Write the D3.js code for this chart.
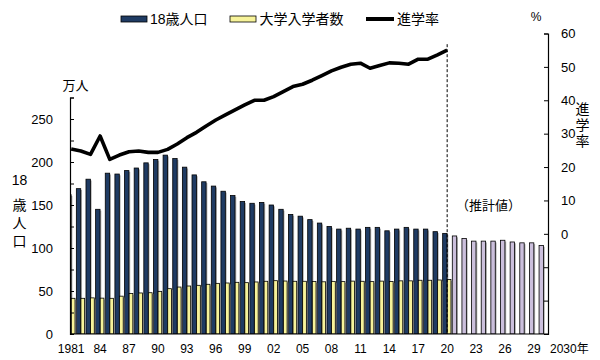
<!DOCTYPE html>
<html><head><meta charset="utf-8">
<script src="https://cdn.jsdelivr.net/npm/d3@7"></script>
<style>
html,body{margin:0;padding:0;background:#fff;}
svg{display:block;font-family:"Liberation Sans","Noto Sans CJK JP",sans-serif;}
</style></head>
<body>
<svg id="chart" width="600" height="360"></svg>
<script>
// ---- data ----
const years = d3.range(1981, 2031);
// 18歳人口 (万人), 1981-2020 actual
const population = [162,169,180,145,187,186,190,193,199,203,208,204,194,185,177,172,166,161,154,152,
  153,150,145,139,137,133,129,125,122,123,122,124,124,120,122,124,122,122,119,117];
// 18歳人口 推計値 (万人), 2021-2030
const projection = [114,111,108,108,108,109,107,106,106,103];
// 大学入学者数 (万人), 1981-2020
const entrants = [41.5,41.5,42,41.7,41.5,44,47,47.7,48,49.6,52.7,54.6,55.8,56.6,57.8,58.9,59.3,60.1,59.7,60.5,
  61.3,62,61.6,61.3,61.3,61,60.7,61.2,60.9,61.5,61.3,60.9,61.5,61.0,61.8,61.8,62.5,62.5,62.8,63.3];
// 進学率 (%), 1981-2020
const rate = [25.4,24.8,23.8,29.3,22.3,23.6,24.6,24.8,24.4,24.4,25.3,26.9,28.8,30.4,32.3,34.1,35.6,37.1,38.6,40.0,
  40.0,41.1,42.6,44.1,44.8,46.0,47.4,48.8,49.9,50.8,51.1,49.6,50.4,51.2,51.1,50.8,52.3,52.3,53.6,55.0];
const xTickYears = [1981,1984,1987,1990,1993,1996,1999,2002,2005,2008,2011,2014,2017,2020,2023,2026,2029];
const xTickLabels = ["1981","84","87","90","93","96","99","02","05","08","11","14","17","20","23","26","29"];
const leftTicks = [0,50,100,150,200,250];
const rightTicks = [0,10,20,30,40,50,60];
const legendNames = ["18歳人口","大学入学者数","進学率"];

// ---- layout ----
const svg = d3.select("#chart");
const X0 = 70, X1 = 548, YB = 334;
const x = d3.scaleBand().domain(years).range([66.2, 548.2]).padding(0);
const yL = d3.scaleLinear().domain([0, 275]).range([YB, 97.5]);
const yR = d3.scaleLinear().domain([-30, 60]).range([YB, 33.5]);
const COL_DARK = "#1f3b63", COL_YEL = "#f7f39a", COL_LAV = "#cbbfdc", COL_SH = "#8a8a8a";
const font = "\"Liberation Sans\",\"Noto Sans CJK JP\",sans-serif";

svg.append("rect").attr("width",600).attr("height",360).attr("fill","#fff");

svg.append("defs").append("clipPath").attr("id","plotclip")
  .append("rect").attr("x",X0).attr("y",0).attr("width",X1-X0).attr("height",YB);

const plot = svg.append("g").attr("clip-path","url(#plotclip)");

const actual = years.slice(0, 40).map((yr,i)=>({yr, pop: population[i], ent: entrants[i], rate: rate[i]}));
const proj = years.slice(40).map((yr,i)=>({yr, pop: projection[i]}));

const darkX = d => x(d.yr) + 0.5, darkW = 4.4;
const yelX = d => x(d.yr) + 5.1, yelW = 3.7;
const ptX = d => x(d.yr) + 5.0;

// dark bars with shadow
plot.selectAll(".dsh").data(actual).join("rect")
  .attr("x", d => darkX(d)+1.3).attr("y", d => yL(d.pop)+1.3)
  .attr("width", darkW).attr("height", d => YB - yL(d.pop))
  .attr("fill", COL_SH).attr("opacity",0.7);
plot.selectAll(".dark").data(actual).join("rect")
  .attr("x", darkX).attr("y", d => yL(d.pop))
  .attr("width", darkW).attr("height", d => YB - yL(d.pop))
  .attr("fill", COL_DARK).attr("stroke","#000").attr("stroke-width",0.8);
// projected bars
plot.selectAll(".psh").data(proj).join("rect")
  .attr("x", d => darkX(d)+1.3).attr("y", d => yL(d.pop)+1.3)
  .attr("width", darkW).attr("height", d => YB - yL(d.pop))
  .attr("fill", COL_SH).attr("opacity",0.7);
plot.selectAll(".proj").data(proj).join("rect")
  .attr("x", darkX).attr("y", d => yL(d.pop))
  .attr("width", darkW).attr("height", d => YB - yL(d.pop))
  .attr("fill", COL_LAV).attr("stroke","#000").attr("stroke-width",0.8);
// yellow bars with shadow
plot.selectAll(".ysh").data(actual).join("rect")
  .attr("x", d => yelX(d)+1.3).attr("y", d => yL(d.ent)+1.3)
  .attr("width", yelW).attr("height", d => YB - yL(d.ent))
  .attr("fill", COL_SH).attr("opacity",0.8);
plot.selectAll(".yel").data(actual).join("rect")
  .attr("x", yelX).attr("y", d => yL(d.ent))
  .attr("width", yelW).attr("height", d => YB - yL(d.ent))
  .attr("fill", COL_YEL).attr("stroke","#000").attr("stroke-width",0.8);

// rate line
const line = d3.line().x(ptX).y(d => yR(d.rate)).curve(d3.curveLinear);
svg.append("path").datum(actual).attr("d", line)
  .attr("fill","none").attr("stroke","#000").attr("stroke-width",3.6)
  .attr("stroke-linejoin","round").attr("stroke-linecap","butt");

// dashed divider at last actual year
const lastX = ptX(actual[actual.length-1]);
svg.append("line").attr("x1",lastX).attr("x2",lastX).attr("y1",yR(56.8)).attr("y2",YB)
  .attr("stroke","#000").attr("stroke-width",1).attr("stroke-dasharray","3,2");

// axes
const gL = svg.append("g").attr("transform",`translate(${X0},0)`)
  .call(d3.axisRight(yL).tickValues(d3.range(0,276,25)).tickSize(4).tickFormat(""));
gL.select(".domain").attr("stroke","#000").attr("stroke-width",1.2);
gL.selectAll(".tick line").attr("stroke","#000");
svg.append("g").selectAll("text").data(leftTicks).join("text")
  .attr("x",53).attr("y",d=>yL(d)).attr("dy","0.36em").attr("text-anchor","end")
  .attr("font-size",13).attr("font-family",font).attr("fill","#000").text(d=>d);

const gR = svg.append("g").attr("transform",`translate(${X1},0)`)
  .call(d3.axisLeft(yR).tickValues(d3.range(-30,61,10)).tickSize(4).tickFormat(""));
gR.select(".domain").attr("stroke","#000").attr("stroke-width",1.2);
gR.selectAll(".tick line").attr("stroke","#000");
svg.append("g").selectAll("text").data(rightTicks).join("text")
  .attr("x",561).attr("y",d=>yR(d)).attr("dy","0.36em").attr("text-anchor","start")
  .attr("font-size",13).attr("font-family",font).attr("fill","#000").text(d=>d);

// x axis baseline + labels
svg.append("line").attr("x1",X0).attr("x2",X1).attr("y1",YB).attr("y2",YB)
  .attr("stroke","#000").attr("stroke-width",1.2);
svg.append("g").selectAll("text").data(xTickYears).join("text")
  .attr("x",(d)=>x(d)+5).attr("y",353).attr("text-anchor","middle")
  .attr("font-size",12).attr("font-family",font).attr("fill","#000")
  .text((d,i)=>xTickLabels[i]);
svg.append("text").attr("x",550).attr("y",353).attr("text-anchor","start")
  .attr("font-size",12).attr("font-family",font).attr("fill","#000").text("2030年");

// axis titles
svg.append("text").attr("x",75.5).attr("y",85).attr("dy","0.36em").attr("text-anchor","middle")
  .attr("font-size",13).attr("font-family",font).text("万人");
const vL = [["18",180],["歳",205],["人",223],["口",241]];
svg.append("g").selectAll("text").data(vL).join("text")
  .attr("x",19.5).attr("y",d=>d[1]).attr("dy","0.36em").attr("text-anchor","middle")
  .attr("font-size",14).attr("font-family",font).text(d=>d[0]);
const vR = [["進",109],["学",125],["率",141]];
svg.append("g").selectAll("text").data(vR).join("text")
  .attr("x",582.5).attr("y",d=>d[1]).attr("dy","0.36em").attr("text-anchor","middle")
  .attr("font-size",14).attr("font-family",font).text(d=>d[0]);
svg.append("text").attr("x",536).attr("y",17).attr("dy","0.36em").attr("text-anchor","middle")
  .attr("font-size",12).attr("font-family",font).text("%");
svg.append("text").attr("x",488.5).attr("y",205).attr("dy","0.36em").attr("text-anchor","middle")
  .attr("font-size",13).attr("font-family",font).text("（推計値）");

// legend
const lg = svg.append("g");
lg.append("rect").attr("x",121).attr("y",16).attr("width",26).attr("height",6)
  .attr("fill",COL_DARK).attr("stroke","#000").attr("stroke-width",0.8);
lg.append("text").attr("x",150).attr("y",19).attr("dy","0.36em")
  .attr("font-size",14).attr("font-family",font).text(legendNames[0]);
lg.append("rect").attr("x",230).attr("y",16).attr("width",26).attr("height",6)
  .attr("fill",COL_YEL).attr("stroke","#000").attr("stroke-width",0.8);
lg.append("text").attr("x",259.5).attr("y",19).attr("dy","0.36em")
  .attr("font-size",14).attr("font-family",font).text(legendNames[1]);
lg.append("line").attr("x1",366).attr("x2",394).attr("y1",19).attr("y2",19)
  .attr("stroke","#000").attr("stroke-width",4);
lg.append("text").attr("x",397).attr("y",19).attr("dy","0.36em")
  .attr("font-size",14).attr("font-family",font).text(legendNames[2]);
</script>
</body></html>
